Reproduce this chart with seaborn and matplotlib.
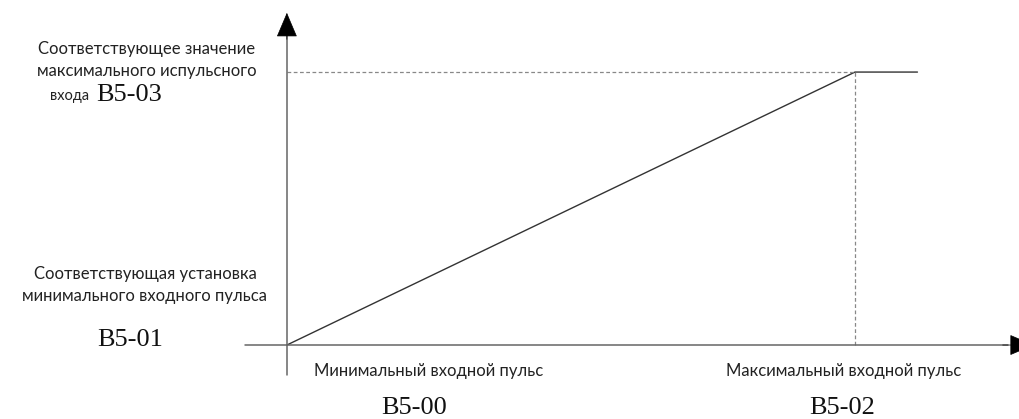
import matplotlib as mpl
import matplotlib.pyplot as plt
import pandas as pd
import seaborn as sns

# Characteristic: input pulse -> corresponding setting (percent of range)
pulse = [0, 100, 111]
setting = [0, 100, 100]

x_codes = ["B5-00", "B5-02"]
x_names = ["Минимальный входной пульс", "Максимальный входной пульс"]
y_codes = ["B5-01", "B5-03"]
y_names = ["Соответствующая установка\nминимального входного пульса",
           "Соответствующее значение\nмаксимального испульсного"]

sns.set_style("white")
mpl.rcParams["font.family"] = ["Lato", "DejaVu Sans"]

W, H = 1020, 419
fig = plt.figure(figsize=(W / 100, H / 100), dpi=100)
ax = fig.add_axes([0, 0, 1, 1])
ax.set_xlim(-50.5, 129.05)
ax.set_ylim(-27.1, 126.4)
ax.axis("off")


def px(x, y):
    return x / W, 1 - y / H


df = pd.DataFrame({"pulse": pulse, "setting": setting})
sns.lineplot(data=df, x="pulse", y="setting", ax=ax, color="#333333", lw=1.0)

# guide lines to the max point
ax.plot([pulse[0], pulse[1]], [setting[1], setting[1]], ls=(0, (3, 2)), color="#888888", lw=0.9)
ax.plot([pulse[1], pulse[1]], [setting[0], setting[1]], ls=(0, (3, 2)), color="#888888", lw=0.9)

# axes lines
ax.plot([-7.4, 127], [0, 0], color="#666666", lw=1.1, clip_on=False)
ax.plot([0, 0], [-11, 116], color="#666666", lw=1.1, clip_on=False)

# arrow heads only
head = dict(arrowstyle="-|>,head_length=1.6,head_width=0.68", fc="black", ec="black",
            lw=0.5, shrinkA=0, shrinkB=0, mutation_scale=10)
ax.annotate("", xy=(0, 121.7), xytext=(0, 112), arrowprops=head, annotation_clip=False)
ax.annotate("", xy=(131.5, 0), xytext=(126, 0), arrowprops=head, annotation_clip=False)

sans = dict(fontsize=12, color="#222222")
serif = dict(fontsize=19, color="#111111", family="Liberation Serif")

fig.text(*px(147, 60), y_names[1], ha="center", va="center", linespacing=1.4, **sans)
fig.text(*px(50, 96), "входа", ha="left", va="center", fontsize=10.5, color="#222222")
fig.text(*px(96, 95), y_codes[1], ha="left", va="center", **serif)

fig.text(*px(145, 285), y_names[0], ha="center", va="center", linespacing=1.4, **sans)
fig.text(*px(130, 340), y_codes[0], ha="center", va="center", **serif)

fig.text(*px(429, 371), x_names[0], ha="center", va="center", **sans)
fig.text(*px(414, 408), x_codes[0], ha="center", va="center", **serif)
fig.text(*px(844, 371), x_names[1], ha="center", va="center", **sans)
fig.text(*px(842, 408), x_codes[1], ha="center", va="center", **serif)

fig.savefig("out.png", dpi=100)
